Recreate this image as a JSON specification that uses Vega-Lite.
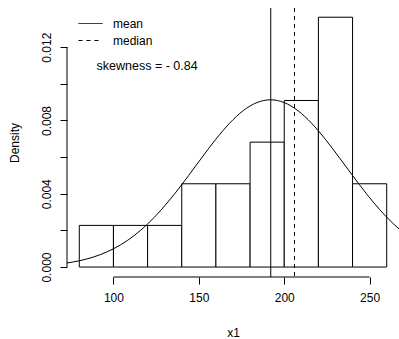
{
  "$schema": "https://vega.github.io/schema/vega-lite/v6.json",
  "width": 332,
  "height": 269,
  "autosize": {"type": "none"},
  "padding": {"left": 67, "top": 8, "right": 0, "bottom": 62},
  "background": "white",
  "config": {
    "view": {"stroke": null},
    "font": "Liberation Sans",
    "axis": {
      "grid": false,
      "domain": false,
      "tickColor": "black",
      "tickSize": 7,
      "tickWidth": 1,
      "labelColor": "black",
      "labelFontSize": 12,
      "labelFont": "Liberation Sans",
      "titleFont": "Liberation Sans",
      "titleFontSize": 12,
      "titleFontWeight": "normal",
      "titleColor": "black"
    }
  },
  "datasets": {
    "bins": [
      {"start": 80, "end": 100, "density": 0.002273},
      {"start": 100, "end": 120, "density": 0.002273},
      {"start": 120, "end": 140, "density": 0.002273},
      {"start": 140, "end": 160, "density": 0.004545},
      {"start": 160, "end": 180, "density": 0.004545},
      {"start": 180, "end": 200, "density": 0.006818},
      {"start": 200, "end": 220, "density": 0.009091},
      {"start": 220, "end": 240, "density": 0.013636},
      {"start": 240, "end": 260, "density": 0.004545}
    ],
    "curve": [
      {"x": 72, "y": 0.000210},
      {"x": 80, "y": 0.000342},
      {"x": 88, "y": 0.000538},
      {"x": 96, "y": 0.000818},
      {"x": 104, "y": 0.001202},
      {"x": 112, "y": 0.001709},
      {"x": 120, "y": 0.002350},
      {"x": 128, "y": 0.003124},
      {"x": 136, "y": 0.004017},
      {"x": 144, "y": 0.004995},
      {"x": 152, "y": 0.006005},
      {"x": 160, "y": 0.006982},
      {"x": 168, "y": 0.007851},
      {"x": 176, "y": 0.008537},
      {"x": 184, "y": 0.008977},
      {"x": 192, "y": 0.009129},
      {"x": 200, "y": 0.008977},
      {"x": 208, "y": 0.008537},
      {"x": 216, "y": 0.007851},
      {"x": 224, "y": 0.006982},
      {"x": 232, "y": 0.006005},
      {"x": 240, "y": 0.004995},
      {"x": 248, "y": 0.004017},
      {"x": 256, "y": 0.003124},
      {"x": 264, "y": 0.002350},
      {"x": 272, "y": 0.001709}
    ],
    "stats": [
      {"stat": "mean", "value": 192.1},
      {"stat": "median", "value": 206}
    ]
  },
  "layer": [
    {
      "data": {"name": "bins"},
      "mark": {"type": "rect", "fill": "white", "stroke": "black", "strokeWidth": 1},
      "encoding": {
        "x": {"field": "start", "type": "quantitative", "scale": {"domain": [72.8, 267.2], "nice": false, "zero": false},
              "title": "x1",
              "axis": {"values": [100, 150, 200, 250], "format": "d", "labelPadding": 8, "titlePadding": 24}},
        "x2": {"field": "end"},
        "y": {"field": "density", "type": "quantitative", "scale": {"domain": [-0.000544, 0.01414], "nice": false, "zero": false},
              "title": "Density",
              "axis": {"values": [0, 0.002, 0.004, 0.006, 0.008, 0.01, 0.012],
                       "labelExpr": "round(datum.value*1000) % 4 == 0 ? format(datum.value, '.3f') : ''",
                       "labelAngle": -90, "labelAlign": "center", "labelBaseline": "bottom", "labelPadding": 7,
                       "titlePadding": 19}},
        "y2": {"datum": 0}
      }
    },
    {
      "data": {"name": "curve"},
      "mark": {"type": "line", "color": "black", "strokeWidth": 1, "interpolate": "monotone", "clip": true},
      "encoding": {
        "x": {"field": "x", "type": "quantitative", "title": "x1"},
        "y": {"field": "y", "type": "quantitative", "title": "Density"}
      }
    },
    {
      "data": {"name": "stats"},
      "mark": {"type": "rule", "color": "black", "strokeWidth": 1},
      "encoding": {
        "x": {"field": "value", "type": "quantitative", "title": "x1"},
        "strokeDash": {
          "field": "stat", "type": "nominal",
          "scale": {"domain": ["mean", "median"], "range": [[1, 0], [4, 4]]},
          "legend": {
            "title": null, "orient": "none", "legendX": 11, "legendY": 9.5,
            "symbolType": "stroke", "symbolSize": 576, "symbolStrokeColor": "black", "symbolStrokeWidth": 1,
            "labelFontSize": 12, "labelFont": "Liberation Sans", "labelColor": "black",
            "labelOffset": 10, "clipHeight": 12, "rowPadding": 5, "padding": 0
          }
        }
      }
    },
    {
      "data": {"values": [{"from": 100, "to": 250}]},
      "mark": {"type": "rule", "color": "black", "strokeWidth": 1},
      "encoding": {
        "x": {"field": "from", "type": "quantitative", "title": "x1"},
        "x2": {"field": "to"},
        "y": {"datum": -0.000544}
      }
    },
    {
      "data": {"values": [{"from": 0, "to": 0.012}]},
      "mark": {"type": "rule", "color": "black", "strokeWidth": 1},
      "encoding": {
        "x": {"datum": 72.8},
        "y": {"field": "from", "type": "quantitative", "title": "Density"},
        "y2": {"field": "to"}
      }
    },
    {
      "data": {"values": [{"label": "skewness = - 0.84"}]},
      "mark": {"type": "text", "align": "left", "baseline": "middle", "fontSize": 12.5, "font": "Liberation Sans", "color": "black"},
      "encoding": {
        "x": {"datum": 90.1},
        "y": {"datum": 0.0110},
        "text": {"field": "label", "type": "nominal"}
      }
    }
  ]
}
